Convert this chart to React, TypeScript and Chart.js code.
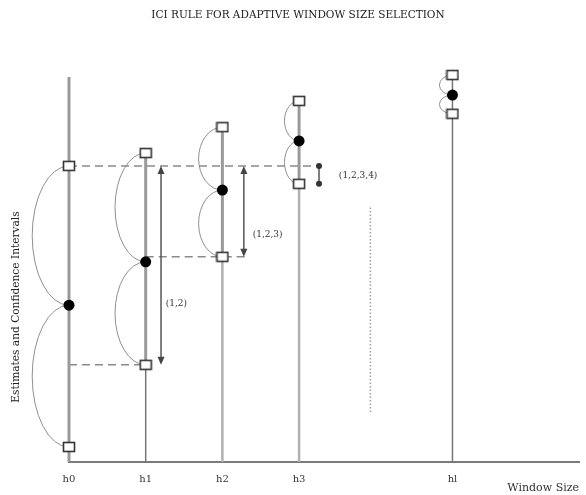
import React, { useEffect, useRef } from 'react';
import { Chart, registerables } from 'chart.js';

Chart.register(...registerables);

// ---- Text ----
const TITLE = 'ICI RULE FOR ADAPTIVE WINDOW SIZE SELECTION';
const X_AXIS_TITLE = 'Window Size';
const Y_AXIS_TITLE = 'Estimates and Confidence Intervals';

// ---- Data ----
const windowLabels = ['h0', 'h1', 'h2', 'h3', 'hl'];
const windowSizes = [0, 1, 2, 3, 5];
const upperBounds = [71.0, 74.1, 80.3, 86.6, 92.8];
const estimates = [37.6, 48.0, 65.2, 77.0, 88.0];
const lowerBounds = [3.6, 23.3, 49.2, 66.7, 83.5];
const h0StemTop = 92.3;

const intervalLabels = ['(1,2)', '(1,2,3)', '(1,2,3,4)'];
const intervalArrowX = [1.2, 2.28, 3.26];
const intervalLabelX = [1.4, 2.59, 3.77];
const intervalLabelY = [37.9, 54.4, 68.6];

const dashedTopEndX = 3.29;
const dashedLower2EndX = 2.33;
const dottedX = 3.93;
const dottedRange = [12.0, 61.6];

const X_MAX = 6.65;
const Y_MAX = 100;

// ---- Styles ----
const arcBulge = [0.48, 0.4, 0.31, 0.19, 0.17];
const FONT = '"DejaVu Serif", "Liberation Serif", serif';

function makeSquare(): HTMLCanvasElement {
  const c = document.createElement('canvas');
  c.width = 14;
  c.height = 12;
  const g = c.getContext('2d')!;
  g.fillStyle = '#ffffff';
  g.fillRect(1, 1, 12, 10);
  g.strokeStyle = '#333333';
  g.lineWidth = 1.6;
  g.strokeRect(1.5, 1.5, 11, 9);
  return c;
}

function seg(points: { x: number; y: number }[], color: string, width: number, dash: number[] = []) {
  return {
    data: points,
    showLine: true,
    borderColor: color,
    backgroundColor: color,
    borderWidth: width,
    borderDash: dash,
    pointRadius: 0,
    pointHoverRadius: 0,
    fill: false,
    clip: false,
    order: 10,
  };
}

export default function App() {
  const ref = useRef<HTMLCanvasElement | null>(null);

  useEffect(() => {
    if (!ref.current) return;
    const square = makeSquare();

    const datasets: any[] = [];

    // markers
    datasets.push({
      data: windowSizes.map((x, i) => ({ x, y: upperBounds[i] })),
      pointStyle: square,
      pointRadius: 6,
      clip: false,
      order: 0,
    });
    datasets.push({
      data: windowSizes.map((x, i) => ({ x, y: lowerBounds[i] })),
      pointStyle: square,
      pointRadius: 6,
      clip: false,
      order: 0,
    });
    datasets.push({
      data: windowSizes.map((x, i) => ({ x, y: estimates[i] })),
      pointStyle: 'circle',
      pointRadius: 5.5,
      backgroundColor: '#000000',
      borderColor: '#000000',
      borderWidth: 0,
      clip: false,
      order: 0,
    });

    // stems
    windowSizes.forEach((x, i) => {
      if (i === 0) {
        datasets.push(seg([{ x, y: 0 }, { x, y: h0StemTop }], '#9a9a9a', 3));
      } else if (i === windowSizes.length - 1) {
        datasets.push(seg([{ x, y: 0 }, { x, y: upperBounds[i] }], '#777777', 1.5));
      } else {
        datasets.push(seg([{ x, y: lowerBounds[i] }, { x, y: upperBounds[i] }], '#9a9a9a', 3));
        const low = i === 1 ? ['#777777', 1.5] : ['#b0b0b0', 2.5];
        datasets.push(seg([{ x, y: 0 }, { x, y: lowerBounds[i] }], low[0] as string, low[1] as number));
      }
    });

    // dashed level lines
    const dash = [8, 5];
    datasets.push(seg([{ x: windowSizes[0], y: upperBounds[0] }, { x: dashedTopEndX, y: upperBounds[0] }], '#8a8a8a', 1.5, dash));
    datasets.push(seg([{ x: windowSizes[0], y: lowerBounds[1] }, { x: windowSizes[1], y: lowerBounds[1] }], '#8a8a8a', 1.5, dash));
    datasets.push(seg([{ x: windowSizes[1], y: lowerBounds[2] }, { x: dashedLower2EndX, y: lowerBounds[2] }], '#8a8a8a', 1.5, dash));

    // dotted line
    datasets.push(seg([{ x: dottedX, y: dottedRange[0] }, { x: dottedX, y: dottedRange[1] }], '#a0a0a0', 1.5, [1.5, 2]));

    const annotations = {
      id: 'iciAnnotations',
      beforeDatasetsDraw(chart: any) {
        const { ctx, scales } = chart;
        const xs = scales.x;
        const ys = scales.y;
        const unit = xs.getPixelForValue(1) - xs.getPixelForValue(0);
        ctx.save();
        ctx.strokeStyle = '#8f8f8f';
        ctx.lineWidth = 1;
        windowSizes.forEach((x, i) => {
          const cx = xs.getPixelForValue(x);
          const rx = arcBulge[i] * unit;
          const pairs = [
            [upperBounds[i], estimates[i]],
            [estimates[i], lowerBounds[i]],
          ];
          pairs.forEach(([a, b]) => {
            const ya = ys.getPixelForValue(a);
            const yb = ys.getPixelForValue(b);
            const cy = (ya + yb) / 2;
            const ry = Math.abs(yb - ya) / 2;
            ctx.beginPath();
            ctx.ellipse(cx, cy, rx, ry, 0, Math.PI / 2, (Math.PI * 3) / 2);
            ctx.stroke();
          });
        });
        ctx.restore();
      },
      afterDatasetsDraw(chart: any) {
        const { ctx, scales } = chart;
        const xs = scales.x;
        const ys = scales.y;
        ctx.save();
        intervalArrowX.forEach((ax, k) => {
          const n = k + 2;
          const top = Math.min(...upperBounds.slice(0, n));
          const bottom = Math.max(...lowerBounds.slice(0, n));
          const px = xs.getPixelForValue(ax);
          const yt = ys.getPixelForValue(top);
          const yb = ys.getPixelForValue(bottom);
          ctx.strokeStyle = '#555555';
          ctx.fillStyle = '#444444';
          ctx.lineWidth = 1.5;
          if (k < 2) {
            ctx.beginPath();
            ctx.moveTo(px, yt + 6);
            ctx.lineTo(px, yb - 6);
            ctx.stroke();
            ctx.beginPath();
            ctx.moveTo(px, yt);
            ctx.lineTo(px - 3.5, yt + 8);
            ctx.lineTo(px + 3.5, yt + 8);
            ctx.closePath();
            ctx.fill();
            ctx.beginPath();
            ctx.moveTo(px, yb);
            ctx.lineTo(px - 3.5, yb - 8);
            ctx.lineTo(px + 3.5, yb - 8);
            ctx.closePath();
            ctx.fill();
          } else {
            ctx.beginPath();
            ctx.moveTo(px, yt);
            ctx.lineTo(px, yb);
            ctx.stroke();
            ctx.fillStyle = '#333333';
            [yt, yb].forEach((yy) => {
              ctx.beginPath();
              ctx.arc(px, yy, 3, 0, Math.PI * 2);
              ctx.fill();
            });
          }
          ctx.fillStyle = '#333333';
          ctx.font = `9px ${FONT}`;
          ctx.textAlign = 'center';
          ctx.textBaseline = 'middle';
          ctx.fillText(intervalLabels[k], xs.getPixelForValue(intervalLabelX[k]), ys.getPixelForValue(intervalLabelY[k]));
        });
        ctx.restore();
      },
      afterDraw(chart: any) {
        const { ctx } = chart;
        ctx.save();
        ctx.translate(16, 307);
        ctx.rotate(-Math.PI / 2);
        ctx.font = `10.6px ${FONT}`;
        ctx.fillStyle = '#222222';
        ctx.textAlign = 'center';
        ctx.textBaseline = 'middle';
        ctx.fillText(Y_AXIS_TITLE, 0, 0);
        ctx.restore();
      },
    };

    const chart = new Chart(ref.current, {
      type: 'scatter',
      data: { datasets },
      options: {
        animation: false,
        responsive: false,
        maintainAspectRatio: false,
        events: [],
        layout: { padding: { left: 10, right: 0, top: 0, bottom: 0 } },
        plugins: {
          legend: { display: false },
          tooltip: { enabled: false },
          title: {
            display: true,
            text: TITLE,
            color: '#222222',
            font: { family: FONT, size: 10.5, weight: 'normal' },
            padding: { top: 9, bottom: 23.4 },
          },
        },
        scales: {
          x: {
            type: 'linear',
            min: 0,
            max: X_MAX,
            grid: { display: false, drawTicks: false },
            border: { display: true, color: '#7a7a7a', width: 2 },
            afterBuildTicks: (scale: any) => {
              scale.ticks = windowSizes.map((v) => ({ value: v }));
            },
            afterFit: (scale: any) => {
              scale.height = 33;
            },
            ticks: {
              padding: 11,
              color: '#333333',
              font: { family: FONT, size: 10 },
              autoSkip: false,
              maxRotation: 0,
              callback: (v: any) => {
                const i = windowSizes.indexOf(Number(v));
                return i >= 0 ? windowLabels[i] : '';
              },
            },
            title: {
              display: true,
              text: X_AXIS_TITLE,
              align: 'end',
              color: '#333333',
              font: { family: FONT, size: 11 },
              padding: { top: 0, bottom: 0 },
            },
          },
          y: {
            type: 'linear',
            min: 0,
            max: Y_MAX,
            grid: { display: false, drawTicks: false },
            border: { display: false },
            ticks: { display: false },
            afterFit: (scale: any) => {
              scale.width = 59;
            },
          },
        },
      } as any,
      plugins: [annotations],
    });

    return () => chart.destroy();
  }, []);

  return (
    <div style={{ position: 'fixed', left: 0, top: 0, width: 586, height: 495, background: '#ffffff' }}>
      <canvas ref={ref} width={586} height={495} style={{ width: 586, height: 495, display: 'block' }} />
    </div>
  );
}
